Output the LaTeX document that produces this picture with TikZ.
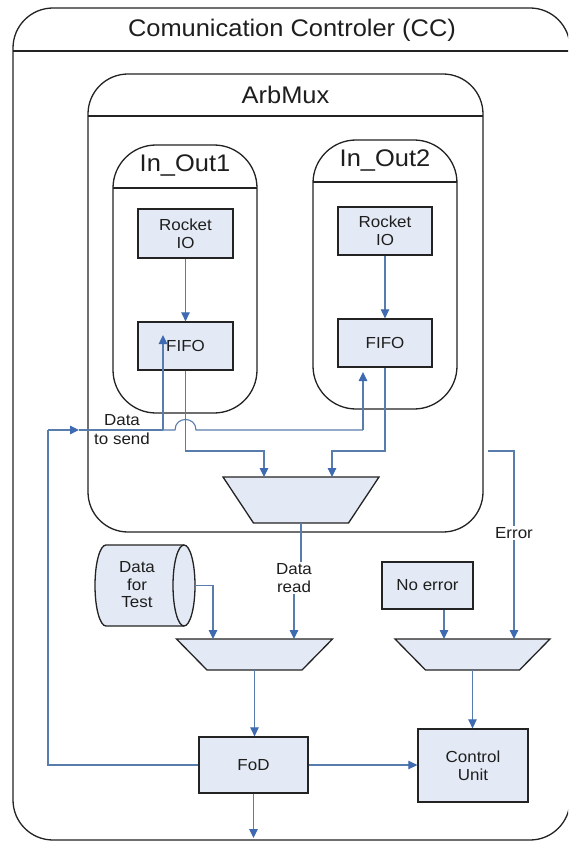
\documentclass[tikz,border=0pt]{standalone}
\usepackage{fontspec}
\setmainfont{Liberation Sans}[FakeStretch=1.06]
\usetikzlibrary{arrows.meta}
\definecolor{boxfill}{RGB}{228,234,245}
\definecolor{linec}{RGB}{88,124,172}
\definecolor{arrowc}{RGB}{62,106,178}
\definecolor{edgec}{RGB}{35,35,35}
\definecolor{txtc}{RGB}{30,30,30}
\begin{document}
\begin{tikzpicture}[x=1pt,y=-1pt,
  container/.style={draw=edgec, line width=1.3pt},
  blk/.style={draw=edgec, fill=boxfill, line width=1.3pt, inner sep=0pt, align=center,
    text=txtc, font=\fontsize{16}{18}\selectfont},
  blkpath/.style={draw=edgec, fill=boxfill, line width=1.3pt},
  muxnode/.style={inner sep=0pt, outer sep=0pt},
  line/.style={draw=linec, line width=1.1pt},
  conn/.style={draw=linec, line width=1.1pt, -{Triangle[length=9pt,width=8.5pt,color=arrowc]}},
  hdr/.style={font=\fontsize{24}{28}\selectfont, text=txtc},
  lbl/.style={font=\fontsize{16}{19}\selectfont, align=center, inner sep=1pt, text=txtc},
]
\useasboundingbox (0,0) rectangle (568,842);
\fill[white] (0,0) rectangle (568,842);
\clip (0,0) rectangle (568,842);

% Communication Controller
\draw[container, rounded corners=40pt] (13,8) rectangle (570,840);
\draw[container] (13,51) -- (570,51);
\node[hdr] (cct) at (292,30) {Comunication Controler (CC)};

% ArbMux
\draw[container, fill=white, rounded corners=40pt] (88,74) rectangle (483,532);
\draw[container] (88,116) -- (483,116);
\node[hdr] (arbt) at (285.5,95) {ArbMux};

% In_Out1 / In_Out2
\draw[container, rounded corners=43pt] (113,145) rectangle (257,413);
\draw[container] (113,188) -- (257,188);
\node[hdr] (io1t) at (185,166) {In\_Out1};
\draw[container, rounded corners=43pt] (313,140) rectangle (457,409);
\draw[container] (313,182) -- (457,182);
\node[hdr] (io2t) at (385,161) {In\_Out2};

% blocks
\node[blk, minimum width=95, minimum height=49] (rio1) at (185.5,233.5) {Rocket\\IO};
\node[blk, minimum width=95, minimum height=48] (fifo1) at (185.5,346) {FIFO};
\node[blk, minimum width=94, minimum height=48] (rio2) at (385,231) {Rocket\\IO};
\node[blk, minimum width=94, minimum height=48] (fifo2) at (385,343) {FIFO};
\node[blk, minimum width=91, minimum height=47] (noerr) at (427.5,585.5) {No error};
\node[blk, minimum width=109, minimum height=56] (fod) at (253.5,765) {FoD};
\node[blk, minimum width=110, minimum height=73] (cu) at (473,765.5) {Control\\Unit};

% multiplexers
\node[muxnode, minimum width=156, minimum height=46] (m1) at (301,500) {};
\filldraw[blkpath] (m1.north west) -- (m1.north east) -- ([xshift=-30.5]m1.south east) -- ([xshift=30.5]m1.south west) -- cycle;
\node[muxnode, minimum width=156, minimum height=31] (m2) at (254.5,654.5) {};
\filldraw[blkpath] (m2.north west) -- (m2.north east) -- ([xshift=-30.5]m2.south east) -- ([xshift=30.5]m2.south west) -- cycle;
\node[muxnode, minimum width=155, minimum height=31] (m3) at (472.5,654.5) {};
\filldraw[blkpath] (m3.north west) -- (m3.north east) -- ([xshift=-30.5]m3.south east) -- ([xshift=30.5]m3.south west) -- cycle;

% Data for Test cylinder
\filldraw[blkpath] (106,545) -- (184,545)
  .. controls (190.1,545) and (195,563.1) .. (195,585.5)
  .. controls (195,607.9) and (190.1,626) .. (184,626)
  -- (106,626)
  .. controls (99.9,626) and (95,607.9) .. (95,585.5)
  .. controls (95,563.1) and (99.9,545) .. (106,545) -- cycle;
\draw[edgec, line width=1.3pt] (184,545)
  .. controls (177.9,545) and (173,563.1) .. (173,585.5)
  .. controls (173,607.9) and (177.9,626) .. (184,626);
\node[lbl, font=\fontsize{16}{17.5}\selectfont] (dft) at (137,585) {Data\\for\\Test};
\coordinate (dftout) at (195,585.5);

% labels
\node[lbl] (dts) at (122,430) {Data\\to send};
\node[lbl, font=\fontsize{16}{18}\selectfont] (dr) at (294,578) {Data\\read};
\node[lbl, fill=white] (errl) at (514,533) {Error};

% junction coordinates
\coordinate (j1) at (264,451);
\coordinate (j2) at (332,451);
\coordinate (fb1) at (48,765);
\coordinate (fb2) at (48,430);
\coordinate (fba) at (79,430);
\coordinate (sp1) at (163,430);
\coordinate (f1in) at (163,335);
\coordinate (h1) at (175,430);
\coordinate (h2) at (196,430);
\coordinate (f2j) at (363,430);
\coordinate (f2in) at (363,372);
\coordinate (errs) at (488,451);
\coordinate (errc) at (514,451);
\coordinate (fodout) at (253.5,838);

% connectors
\draw[conn] (rio1.south) -- (fifo1.north);
\draw[conn] (rio2.south) -- (fifo2.north);
\draw[conn] (fifo1.south) |- (j1) -- ([xshift=-37]m1.north);
\draw[conn] (fifo2.south) |- (j2) -- ([xshift=31]m1.north);

\draw[line] (fod.west) -- (fb1) -- (fb2);
\draw[conn] (fb2) -- (fba);
\draw[line] (fba) -- (sp1);
\draw[conn] (sp1) -- (f1in);
\draw[line] (sp1) -- (h1) .. controls (175,416) and (196,416) .. (h2) -- (f2j);
\draw[conn] (f2j) -- (f2in);

\draw[line] (m1.south) -- (m1.south |- dr.north);
\draw[conn] (dr.south) -- ([xshift=39.5]m2.north);
\draw[conn] (dftout) -| ([xshift=-41.5]m2.north);
\draw[conn] (m2.south) -- (m2.south |- fod.north);
\draw[conn] (fod.east) -- (fod.east -| cu.west);
\draw[conn] (fod.south) -- (fodout);

\draw[line] (errs) -- (errc) -- (errl.north);
\draw[conn] (errl.south) -- ([xshift=41.5]m3.north);
\draw[conn] ([xshift=16.5]noerr.south) -- ([xshift=-28.5]m3.north);
\draw[conn] (m3.south) -- (m3.south |- cu.north);
\end{tikzpicture}
\end{document}
